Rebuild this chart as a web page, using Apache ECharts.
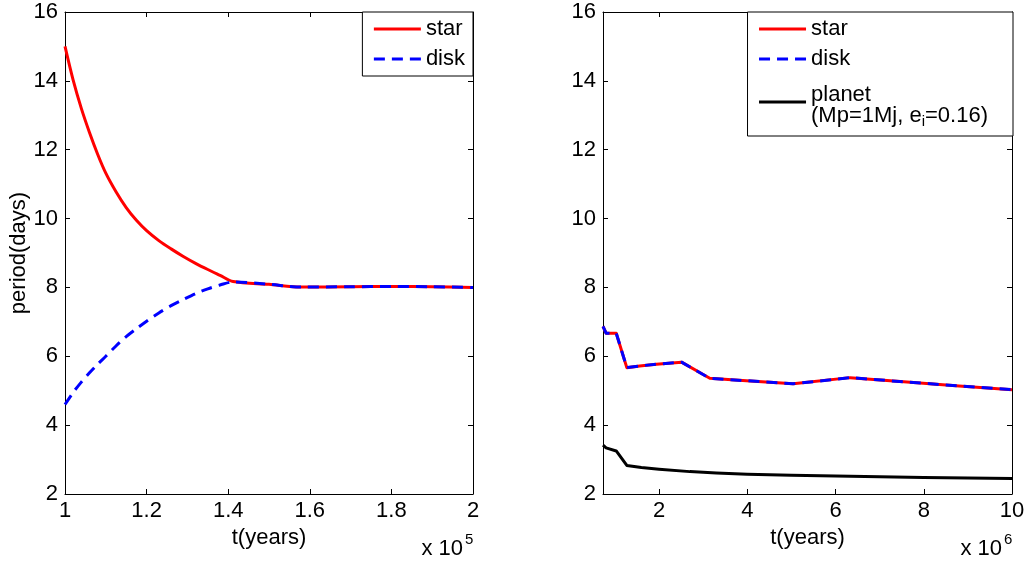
<!DOCTYPE html>
<html>
<head>
<meta charset="utf-8">
<script src="https://cdn.jsdelivr.net/npm/echarts@6/dist/echarts.min.js"></script>
<style>
  html, body { margin: 0; padding: 0; background: #fff; }
  #chart { width: 1029px; height: 562px; }
</style>
</head>
<body>
<div id="chart"></div>
<script>
// ---- Early phase: star and disk locking (t in years) ----
const earlyStarT   = [1.000e5, 1.020e5, 1.040e5, 1.060e5, 1.080e5, 1.100e5, 1.125e5, 1.150e5, 1.175e5, 1.200e5, 1.230e5, 1.260e5, 1.290e5, 1.320e5, 1.350e5, 1.380e5, 1.412e5, 1.500e5, 1.580e5, 1.700e5, 1.800e5, 1.900e5, 2.000e5];
const earlyStarP   = [15.0, 14.02, 13.2, 12.5, 11.87, 11.32, 10.78, 10.32, 9.95, 9.65, 9.36, 9.12, 8.9, 8.7, 8.52, 8.35, 8.17, 8.09, 8.01, 8.02, 8.03, 8.02, 8.0];
const earlyDiskT   = [1.000e5, 1.020e5, 1.040e5, 1.060e5, 1.080e5, 1.100e5, 1.125e5, 1.150e5, 1.175e5, 1.200e5, 1.230e5, 1.260e5, 1.290e5, 1.320e5, 1.350e5, 1.380e5, 1.412e5, 1.500e5, 1.580e5, 1.700e5, 1.800e5, 1.900e5, 2.000e5];
const earlyDiskP   = [4.6, 4.95, 5.25, 5.52, 5.77, 6.0, 6.3, 6.57, 6.8, 7.02, 7.26, 7.47, 7.65, 7.82, 7.96, 8.07, 8.16, 8.09, 8.01, 8.02, 8.03, 8.02, 8.0];

// ---- Late phase: star, disk and planet (t in years) ----
const lateT        = [0.73e6, 0.80e6, 1.03e6, 1.27e6, 1.56e6, 1.94e6, 2.51e6, 3.15e6, 3.98e6, 5.04e6, 6.33e6, 7.62e6, 8.80e6, 10.0e6];
const lateStarP    = [6.87, 6.67, 6.67, 5.67, 5.72, 5.77, 5.83, 5.36, 5.29, 5.20, 5.38, 5.25, 5.14, 5.03];
const lateDiskP    = [6.87, 6.67, 6.67, 5.67, 5.72, 5.77, 5.83, 5.36, 5.29, 5.20, 5.38, 5.25, 5.14, 5.03];
const planetT      = [0.73e6, 0.80e6, 1.03e6, 1.27e6, 1.60e6, 2.00e6, 2.70e6, 3.30e6, 4.00e6, 5.00e6, 6.00e6, 7.00e6, 8.00e6, 9.00e6, 10.0e6];
const planetP      = [3.42, 3.34, 3.25, 2.83, 2.77, 2.72, 2.65, 2.61, 2.575, 2.545, 2.52, 2.50, 2.48, 2.465, 2.45];

// ---- Axis ticks ----
const periodTicks  = [2, 4, 6, 8, 10, 12, 14, 16];
const earlyTicks   = [1.0e5, 1.2e5, 1.4e5, 1.6e5, 1.8e5, 2.0e5];
const lateTicks    = [2e6, 4e6, 6e6, 8e6, 10e6];

const FONT = 'Liberation Sans, Arial, Helvetica, sans-serif';
const FS = 22;
const pairs = (xs, ys) => xs.map((x, i) => [x, ys[i]]);
const trim = v => String(+v.toFixed(3));

const axisLine = { show: true, onZero: false, lineStyle: { color: '#000', width: 1 } };
const tickIn = { show: true, inside: true, length: 5, lineStyle: { color: '#000', width: 1 } };
const labelStyle = { color: '#000', fontSize: FS, fontFamily: FONT };

function xAxisPair(gridIndex, min, max, ticks, scale) {
  const tickOpt = Object.assign({}, tickIn, { customValues: ticks });
  return [
    {
      type: 'value', gridIndex, position: 'bottom', min, max,
      axisLine, axisTick: tickOpt, splitLine: { show: false },
      axisLabel: Object.assign({ margin: 6, customValues: ticks, formatter: v => trim(v / scale) }, labelStyle),
      name: 't(years)', nameLocation: 'middle', nameGap: 30,
      nameTextStyle: { color: '#000', fontSize: FS, fontFamily: FONT }
    },
    {
      type: 'value', gridIndex, position: 'top', min, max,
      axisLine, axisTick: tickOpt, splitLine: { show: false },
      axisLabel: { show: false, customValues: ticks }
    }
  ];
}

function yAxisPair(gridIndex, withName) {
  const tickOpt = Object.assign({}, tickIn, { customValues: periodTicks });
  const main = {
    type: 'value', gridIndex, position: 'left', min: 2, max: 16, interval: 2,
    axisLine, axisTick: tickOpt, splitLine: { show: false },
    axisLabel: Object.assign({ margin: 7, customValues: periodTicks }, labelStyle)
  };
  if (withName) {
    Object.assign(main, {
      name: 'period(days)', nameLocation: 'middle', nameGap: 33,
      nameTextStyle: { color: '#000', fontSize: FS, fontFamily: FONT }
    });
  }
  return [
    main,
    {
      type: 'value', gridIndex, position: 'right', min: 2, max: 16, interval: 2,
      axisLine, axisTick: tickOpt, splitLine: { show: false },
      axisLabel: { show: false }
    }
  ];
}

function lineSeries(name, xi, yi, data, color, type, z, smooth) {
  return {
    name, type: 'line', xAxisIndex: xi, yAxisIndex: yi, data,
    symbol: 'none', showSymbol: false, smooth: smooth || false, z,
    lineStyle: { color, width: 3, type, cap: 'butt', join: 'round' },
    itemStyle: { color },
    emphasis: { disabled: true }
  };
}

const legendBase = {
  orient: 'vertical', top: 12, selectedMode: false,
  backgroundColor: '#fff', borderColor: '#000', borderWidth: 1, borderRadius: 0,
  itemWidth: 47, itemHeight: 14, itemGap: 8,
  lineStyle: { width: 3 },
  itemStyle: { opacity: 0 },
  textStyle: {
    color: '#000', fontSize: FS, fontFamily: FONT, lineHeight: 21,
    rich: {
      g: { fontSize: 4, fontFamily: FONT, lineHeight: 6, verticalAlign: 'top', color: '#000' },
      a: { fontSize: FS, fontFamily: FONT, lineHeight: 21, verticalAlign: 'top', color: '#000' },
      s: { fontSize: 15, fontFamily: FONT, lineHeight: 12, verticalAlign: 'top', padding: [9, 0, 0, 0], color: '#000' }
    }
  },
  formatter: name => name === 'planet'
    ? '{g| }\n{a|planet}\n{a|(Mp=1Mj, e}{s|i}{a|=0.16)}'
    : name
};

// "x 10^n" multiplier label under each x axis
function multiplier(xRight, exp) {
  return [
    {
      type: 'text', x: xRight - 10, y: 549,
      style: { text: 'x 10', align: 'right', verticalAlign: 'middle', fill: '#000', font: FS + 'px ' + FONT }
    },
    {
      type: 'text', x: xRight - 8, y: 540,
      style: { text: String(exp), align: 'left', verticalAlign: 'middle', fill: '#000', font: '15px ' + FONT }
    }
  ];
}

const option = {
  animation: false,
  backgroundColor: '#fff',
  grid: [
    { left: 65, right: 556, top: 12, bottom: 68, outerBoundsMode: 'none', containLabel: false },
    { left: 603, right: 17, top: 12, bottom: 68, outerBoundsMode: 'none', containLabel: false }
  ],
  xAxis: [
    ...xAxisPair(0, 1e5, 2e5, earlyTicks, 1e5),
    ...xAxisPair(1, 0.73e6, 10e6, lateTicks, 1e6)
  ],
  yAxis: [
    ...yAxisPair(0, true),
    ...yAxisPair(1, false)
  ],
  legend: [
    Object.assign({}, legendBase, { right: 556, padding: [6, 8, 6, 10], data: ['star', 'disk'] }),
    Object.assign({}, legendBase, { right: 16, padding: [6, 25, 7, 10], data: ['star', 'disk', 'planet'] })
  ],
  series: [
    lineSeries('star', 0, 0, pairs(earlyStarT, earlyStarP), '#ff0000', 'solid', 2, 0.3),
    lineSeries('disk', 0, 0, pairs(earlyDiskT, earlyDiskP), '#0000ff', [11, 7], 3, 0.3),
    lineSeries('star', 2, 2, pairs(lateT, lateStarP), '#ff0000', 'solid', 2),
    lineSeries('disk', 2, 2, pairs(lateT, lateDiskP), '#0000ff', [11, 7], 3),
    lineSeries('planet', 2, 2, pairs(planetT, planetP), '#000000', 'solid', 2)
  ],
  graphic: [
    ...multiplier(473, 5),
    ...multiplier(1012, 6)
  ]
};

const chart = echarts.init(document.getElementById('chart'), null, { renderer: 'canvas' });
chart.setOption(option);
</script>
</body>
</html>
